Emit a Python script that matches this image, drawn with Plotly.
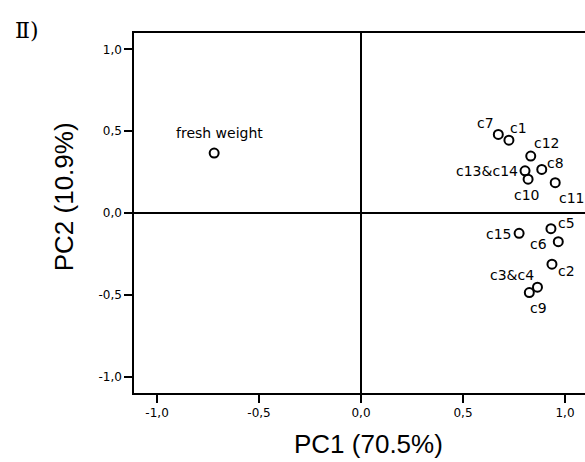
import plotly.graph_objects as go

labels = ["fresh weight", "c7", "c1", "c12", "c8", "c13&c14", "c10", "c11",
          "c15", "c5", "c6", "c2", "c3&c4", "c9"]
pc1 = [-0.72, 0.673, 0.725, 0.832, 0.886, 0.804, 0.819, 0.952,
       0.775, 0.931, 0.967, 0.936, 0.825, 0.865]
pc2 = [0.366, 0.48, 0.445, 0.348, 0.266, 0.258, 0.207, 0.185,
       -0.124, -0.096, -0.175, -0.313, -0.486, -0.453]
# label offsets in pixels (dx right, dy down)
label_dx = [5, -13, 10, 16, 14, -38, -1, 17, -20, 16, -20, 15, -17, 1]
label_dy = [-20, -11, -12, -13, -6, 0, 16, 15, 1, -6, 2, 7, -18, 21]

tick_vals = [-1.0, -0.5, 0.0, 0.5, 1.0]
tick_text = ["-1,0", "-0,5", "0,0", "0,5", "1,0"]

fig = go.Figure()
fig.add_trace(go.Scatter(
    x=pc1, y=pc2, mode="markers",
    marker=dict(symbol="circle-open", size=9, color="black", line=dict(width=2, color="black")),
    hoverinfo="skip", showlegend=False, cliponaxis=False,
))

for lab, x, y, dx, dy in zip(labels, pc1, pc2, label_dx, label_dy):
    fig.add_annotation(x=x, y=y, text=lab, showarrow=False, xshift=dx, yshift=-dy,
                       font=dict(family="DejaVu Sans, sans-serif", size=14, color="black"))

fig.add_annotation(xref="paper", yref="paper", x=-0.237, y=1.006, xanchor="center", yanchor="middle",
                   text="Ⅱ)", showarrow=False,
                   font=dict(family="DejaVu Serif, Liberation Serif, serif", size=22, color="black"))

# axis titles
fig.add_annotation(xref="paper", yref="paper", x=0.52, y=-0.143, xanchor="center", yanchor="middle",
                   text="PC1 (70.5%)", showarrow=False,
                   font=dict(family="Liberation Sans, Arial, sans-serif", size=26, color="black"))
fig.add_annotation(xref="paper", yref="paper", x=-0.155, y=0.544, xanchor="center", yanchor="middle",
                   text="PC2 (10.9%)", showarrow=False, textangle=-90,
                   font=dict(family="Liberation Sans, Arial, sans-serif", size=26, color="black"))

fig.update_layout(
    width=585, height=462,
    margin=dict(l=134, r=0, t=33, b=69),
    paper_bgcolor="white", plot_bgcolor="white",
    font=dict(family="DejaVu Sans, sans-serif", color="black"),
    xaxis=dict(
        range=[-1.113, 1.098], tickvals=tick_vals, ticktext=tick_text,
        showgrid=False, zeroline=True, zerolinecolor="black", zerolinewidth=2,
        showline=True, linecolor="black", linewidth=1.5, mirror=True,
        ticks="outside", ticklen=8, tickwidth=2, tickcolor="black",
        tickfont=dict(size=12),
    ),
    yaxis=dict(
        range=[-1.1, 1.1], tickvals=tick_vals, ticktext=tick_text,
        showgrid=False, zeroline=True, zerolinecolor="black", zerolinewidth=2,
        showline=True, linecolor="black", linewidth=1.5, mirror=False,
        ticks="outside", ticklen=8, tickwidth=2, tickcolor="black",
        tickfont=dict(size=12),
    ),
)

fig.write_html("out.html")
